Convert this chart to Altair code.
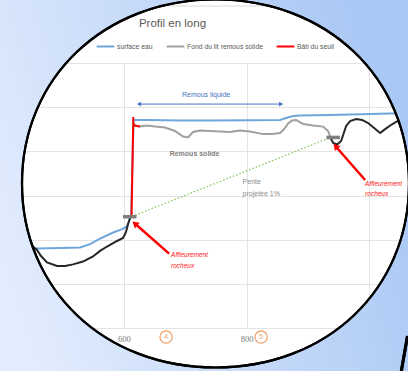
import altair as alt
import pandas as pd

# ---------------- data (distance in m, elevation in m) ----------------
surface_x = [438.8, 458.3, 495.8, 528.4, 544.7, 561.1, 580.6, 596.9, 605.1, 609.1, 611.6,
             615.7, 642.6, 691.5, 740.4, 805.6, 854.5, 864.3, 875.7, 887.2, 936.1, 985.0, 1050.2]
surface_y = [173.60, 173.60, 173.62, 173.65, 173.80, 174.05, 174.30, 174.48, 174.60, 174.89, 175.07,
             179.42, 179.42, 179.40, 179.40, 179.41, 179.42, 179.51, 179.60, 179.62, 179.65, 179.68, 179.72]

fond_x = [618.1, 626.3, 637.7, 650.7, 667.0, 683.3, 696.4, 704.5, 712.7, 724.1, 740.4, 756.7, 773.0,
          789.3, 805.6, 826.8, 841.5, 854.5, 861.1, 867.6, 874.1, 880.6, 892.0, 908.3, 924.7, 932.8, 936.1]
fond_y = [179.19, 179.12, 179.17, 179.12, 179.08, 178.92, 178.67, 178.63, 178.88, 178.94, 178.92, 178.90, 178.88,
          178.94, 178.90, 178.78, 178.78, 178.83, 179.01, 179.26, 179.40, 179.42, 179.24, 179.17, 179.12, 178.92, 178.67]

bati_x = [612.4, 615.3, 615.3, 618.1, 626.3]
bati_y = [175.05, 179.55, 179.26, 179.15, 179.12]
bati_seg = [0, 0, 1, 1, 1]

terrain_left_x = [446.9, 458.3, 464.9, 474.6, 490.9, 504.0, 517.0, 533.3, 549.6, 561.1, 572.5, 588.8,
                  598.5, 603.4, 606.7, 610.0]
terrain_left_y = [173.80, 173.53, 173.26, 172.97, 172.81, 172.81, 172.88, 173.01, 173.24, 173.49, 173.69, 173.94,
                  174.08, 174.35, 174.71, 174.98]
terrain_right_x = [936.1, 941.0, 947.5, 954.0, 957.3, 962.2, 968.7, 978.5, 988.2, 998.0, 1007.8, 1017.6,
                   1024.1, 1033.9, 1043.7, 1056.7]
terrain_right_y = [178.65, 178.38, 178.31, 178.47, 178.74, 179.15, 179.37, 179.46, 179.42, 179.28, 179.06, 178.83,
                   178.97, 179.17, 179.33, 179.51]

rock_x = [609.5, 941.0]
rock_y = [175.04, 178.63]

slope_x = [613.2, 933.6]
slope_y = [175.05, 178.59]

liquide_x = [624.6, 856.2]
liquide_y = [180.14, 180.14]
liquide_shape = ["triangle-left", "triangle-right"]

arrow_tail_x = [673.6, 993.1]
arrow_tail_y = [173.37, 176.70]
arrow_head_x = [617.8, 945.0]
arrow_head_y = [174.73, 178.23]
arrow_angle = [311, 319]

note_text = ["Affleurement", "rocheux", "Affleurement", "rocheux"]
note_x = [676.8, 676.8, 993.1, 993.1]
note_y = [173.31, 172.83, 176.54, 176.05]

pente_text = ["Pente", "projetée 1%"]
pente_x = [793.4, 793.4]
pente_y = [176.63, 176.09]

profile_ids = ["4", "5"]
profile_x = [668.7, 823.6]
profile_y = [169.59, 169.59]

series_names = ["surface eau", "Fond du lit remous solide", "Bâti du seuil"]
series_colors = ["#6fa6dc", "#a0a0a0", "#ff0000"]
x_ticks = [600, 800, 1000]
y_ticks = [170, 172, 174, 176, 178, 180, 182]

# ---------------- tables ----------------
def line_df(name, xs, ys, seg=None):
    return pd.DataFrame({"series": name, "x": xs, "y": ys,
                         "ord": list(range(len(xs))),
                         "seg": seg if seg is not None else [0] * len(xs)})

df_surface = line_df(series_names[0], surface_x, surface_y)
df_fond = line_df(series_names[1], fond_x, fond_y)
df_bati = line_df(series_names[2], bati_x, bati_y, bati_seg)
df_terrain = pd.concat([line_df("terrain", terrain_left_x, terrain_left_y, [0] * len(terrain_left_x)),
                        line_df("terrain", terrain_right_x, terrain_right_y, [1] * len(terrain_right_x))])
df_rock = pd.DataFrame({"x": rock_x, "y": rock_y})
df_slope = pd.DataFrame({"x": slope_x, "y": slope_y})
df_liq = pd.DataFrame({"x": liquide_x, "y": liquide_y, "shape": liquide_shape})
df_liq_rule = pd.DataFrame({"x": [liquide_x[0]], "x2": [liquide_x[1]], "y": [liquide_y[0]]})
df_arrows = pd.DataFrame({"x": arrow_tail_x, "y": arrow_tail_y, "x2": arrow_head_x, "y2": arrow_head_y,
                          "ang": arrow_angle})
df_notes = pd.DataFrame({"t": note_text, "x": note_x, "y": note_y})
df_pente = pd.DataFrame({"t": pente_text, "x": pente_x, "y": pente_y})
df_prof = pd.DataFrame({"t": profile_ids, "x": profile_x, "y": profile_y})
df_liq_text = pd.DataFrame({"t": ["Remous liquide"], "x": [733.9], "y": [180.53]})
df_sol_text = pd.DataFrame({"t": ["Remous solide"], "x": [715.1], "y": [177.86]})

xs = alt.Scale(domain=[398, 1063], nice=False, zero=False)
ys = alt.Scale(domain=[170, 182], nice=False, zero=False)

X = alt.X("x:Q", scale=xs, axis=alt.Axis(values=x_ticks, grid=True, gridColor="#e4e4e4", gridWidth=1,
                                          domain=False, ticks=False, tickSize=0, labelPadding=6,
                                          labelFont="Liberation Serif", labelFontSize=8.5,
                                          labelColor="#7a7a7a", labelFlush=False, title=None))
Y = alt.Y("y:Q", scale=ys, axis=alt.Axis(values=y_ticks, grid=True, gridColor="#e4e4e4", gridWidth=1,
                                          domain=False, ticks=False, labels=False, title=None))
Xp = alt.X("x:Q", scale=xs)
Yp = alt.Y("y:Q", scale=ys)

color = alt.Color("series:N",
                  scale=alt.Scale(domain=series_names, range=series_colors),
                  legend=alt.Legend(orient="none", legendX=95.5, legendY=-26.5, direction="horizontal",
                                    title=None, symbolType="stroke", symbolSize=310, symbolStrokeWidth=2,
                                    labelFont="Liberation Sans", labelFontSize=6.8, labelColor="#595959",
                                    labelOffset=1.5, columnPadding=9, padding=0))

grid_layer = alt.Chart(df_surface).mark_line(strokeWidth=2).encode(
    x=X, y=Y, color=color, order=alt.Order("ord:Q"))
fond_layer = alt.Chart(df_fond).mark_line(strokeWidth=2).encode(
    x=Xp, y=Yp, color=color, order=alt.Order("ord:Q"))
terrain_layer = alt.Chart(df_terrain).mark_line(strokeWidth=2, color="#262626").encode(
    x=Xp, y=Yp, detail="seg:N", order=alt.Order("ord:Q"))
bati_layer = alt.Chart(df_bati).mark_line(strokeWidth=2).encode(
    x=Xp, y=Yp, color=color, detail="seg:N", order=alt.Order("ord:Q"))

slope_layer = alt.Chart(df_slope).mark_line(strokeWidth=1.3, color="#8cc65a", strokeDash=[1.5, 2]).encode(
    x=Xp, y=Yp)
rock_layer = alt.Chart(df_rock).mark_tick(orient="horizontal", size=13.5, thickness=3.5,
                                          color="#7f7f7f", opacity=1).encode(x=Xp, y=Yp)

liq_rule = alt.Chart(df_liq_rule).mark_rule(color="#4472c4", strokeWidth=1).encode(
    x=Xp, x2="x2:Q", y=Yp)
liq_heads = alt.Chart(df_liq).mark_point(filled=True, color="#4472c4", size=22, opacity=1).encode(
    x=Xp, y=Yp, shape=alt.Shape("shape:N", scale=None))
liq_text = alt.Chart(df_liq_text).mark_text(font="Liberation Sans", fontSize=7, color="#4472c4",
                                             align="center", baseline="middle").encode(x=Xp, y=Yp, text="t:N")
sol_text = alt.Chart(df_sol_text).mark_text(font="Liberation Sans", fontSize=7, color="#7f7f7f",
                                             fontWeight="bold", align="center", baseline="middle").encode(
    x=Xp, y=Yp, text="t:N")
pente_layer = alt.Chart(df_pente).mark_text(font="Liberation Sans", fontSize=7, color="#8c8c8c",
                                            align="left", baseline="middle").encode(x=Xp, y=Yp, text="t:N")

arrow_rules = alt.Chart(df_arrows).mark_rule(color="#ff0000", strokeWidth=2.5).encode(
    x=Xp, y=Yp, x2="x2:Q", y2="y2:Q")
arrow_heads = alt.Chart(df_arrows).mark_point(shape="triangle-up", filled=True, color="#ff0000",
                                              size=55, opacity=1).encode(
    x=alt.X("x2:Q", scale=xs), y=alt.Y("y2:Q", scale=ys), angle=alt.Angle("ang:Q", scale=None))
notes_layer = alt.Chart(df_notes).mark_text(font="Liberation Sans", fontSize=6.5, color="#ff2020",
                                            fontStyle="italic", align="left", baseline="middle").encode(
    x=Xp, y=Yp, text="t:N")

prof_circles = alt.Chart(df_prof).mark_point(shape="circle", size=150, stroke="#f2a066", strokeWidth=1.2,
                                             filled=False, opacity=1).encode(x=Xp, y=Yp)
prof_text = alt.Chart(df_prof).mark_text(font="Liberation Sans", fontSize=6.5, color="#f2a066",
                                         align="center", baseline="middle").encode(x=Xp, y=Yp, text="t:N")

frame_line = alt.Chart(df_rock).mark_rule(color="#e6e6e6", strokeWidth=1).encode(
    x=alt.value(0), x2=alt.value(408), y=alt.value(-57))

# magnifier lens outline (slightly squarish ellipse), counter-clockwise on screen
ellipse = ("M -1 0 C -1 0.5468 -0.575 0.951 0 0.951 C 0.575 0.951 1 0.5468 1 0 "
           "C 1 -0.5468 0.575 -0.951 0 -0.951 C -0.575 -0.951 -1 -0.5468 -1 0 Z")
mask_path = "M -1.125 -0.96 L 1.01 -0.96 L 1.01 0.98 L -1.125 0.98 Z " + ellipse
bg = alt.Gradient(gradient="linear",
                  stops=[alt.GradientStop(color="#e2ecfd", offset=0),
                         alt.GradientStop(color="#a8c7f4", offset=1)],
                  x1=0, y1=0.65, x2=1, y2=0.35)
mask = alt.Chart(df_rock).mark_point(shape=mask_path, filled=True, fill=bg, size=149769, opacity=1).encode(
    x=alt.value(215.5), y=alt.value(120.5))
outline = alt.Chart(df_rock).mark_point(shape=ellipse, filled=False, stroke="black", strokeWidth=2.2,
                                        size=149769, opacity=1).encode(
    x=alt.value(215.5), y=alt.value(120.5))
handle = alt.Chart(df_rock).mark_rule(color="black", strokeWidth=3).encode(
    x=alt.value(407.5), x2=alt.value(401), y=alt.value(273), y2=alt.value(310))
title = alt.Chart(pd.DataFrame({"t": ["Profil en long"]})).mark_text(
    font="Liberation Sans", fontSize=11.5, color="#595959", align="center", baseline="alphabetic").encode(
    x=alt.value(172.5), y=alt.value(-36.3), text="t:N")

chart = alt.layer(
    grid_layer, fond_layer, terrain_layer, slope_layer, bati_layer, rock_layer,
    liq_rule, liq_heads, liq_text, sol_text, pente_layer,
    arrow_rules, arrow_heads, notes_layer, prof_circles, prof_text, frame_line,
    mask, outline, handle, title
).properties(
    width=408, height=265,
    autosize=alt.AutoSizeParams(type="none"),
    padding={"left": 0, "right": 0, "top": 63, "bottom": 43},
).configure_view(stroke=None).configure(background="white")

chart.save("out.html", embed_options={"renderer": "svg", "actions": False})
